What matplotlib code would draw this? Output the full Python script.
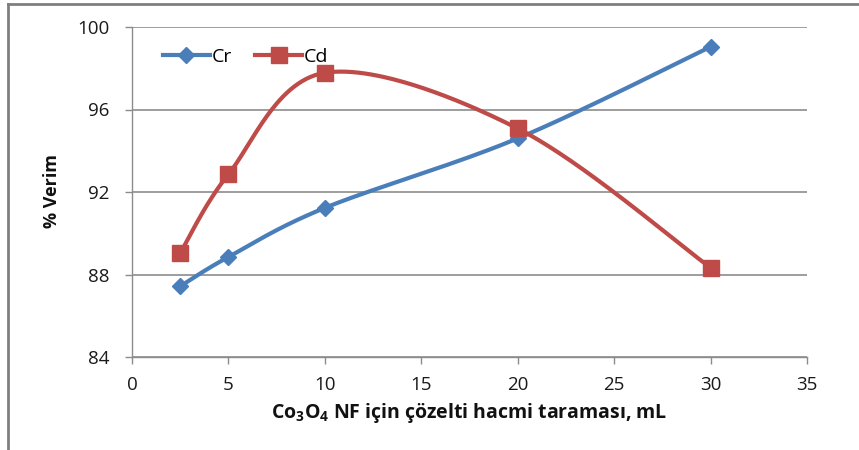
import matplotlib.pyplot as plt
import numpy as np
from matplotlib.lines import Line2D

# Veriler
hacim = [2.5, 5, 10, 20, 30]
cr_verim = [87.43, 88.85, 91.23, 94.6, 99.04]
cd_verim = [89.04, 92.86, 97.78, 95.08, 88.33]

x_ticks = [0, 5, 10, 15, 20, 25, 30, 35]
y_ticks = [84, 88, 92, 96, 100]

CR_RENK = '#4a7ebb'
CD_RENK = '#be4b48'
GRI = '#8c8c8c'


def excel_smooth(x, y, n=60):
    """Excel tarzı yumuşatılmış çizgi (Bezier, Catmull-Rom kontrol noktaları)."""
    p = np.column_stack([x, y]).astype(float)
    p = np.vstack([p[0], p, p[-1]])
    out = []
    for i in range(1, len(p) - 2):
        p0, p1, p2, p3 = p[i - 1], p[i], p[i + 1], p[i + 2]
        c1 = p1 + (p2 - p0) / 6
        c2 = p2 - (p3 - p1) / 6
        t = np.linspace(0, 1, n)[:, None]
        seg = ((1 - t) ** 3) * p1 + 3 * ((1 - t) ** 2) * t * c1 + 3 * (1 - t) * t ** 2 * c2 + t ** 3 * p2
        out.append(seg if i == 1 else seg[1:])
    seg = np.vstack(out)
    return seg[:, 0], seg[:, 1]


plt.rcParams['font.family'] = ['Open Sans', 'DejaVu Sans']
plt.rcParams['mathtext.default'] = 'regular'

fig = plt.figure(figsize=(8.59, 4.50), dpi=100)
ax = fig.add_axes([132 / 859, 1 - 357 / 450, 675 / 859, 330 / 450])

for yv, renk, mk, ms in [(cr_verim, CR_RENK, 'D', 8), (cd_verim, CD_RENK, 's', 11)]:
    sx, sy = excel_smooth(hacim, yv)
    ax.plot(sx, sy, color=renk, linewidth=3, solid_capstyle='round', zorder=3)
    ax.plot(hacim, yv, linestyle='none', marker=mk, markersize=ms, color=renk, zorder=4)

ax.set_xlim(0, 35)
ax.set_ylim(84, 100)
ax.set_xticks(x_ticks)
ax.set_yticks(y_ticks)
ax.yaxis.grid(True, color=GRI, linewidth=1.2)
ax.set_axisbelow(True)
for s in ['top', 'right']:
    ax.spines[s].set_visible(False)
for s in ['left', 'bottom']:
    ax.spines[s].set_color(GRI)
    ax.spines[s].set_linewidth(1.0)
ax.tick_params(axis='both', colors=GRI, length=5, width=1.0, labelcolor='#1a1a1a', labelsize=13.5)
ax.tick_params(axis='x', pad=9)
ax.tick_params(axis='y', pad=11)

fig.text(52 / 859, 1 - 191 / 450, '% Verim', rotation=90, ha='center', va='center',
         fontsize=13, fontweight='bold', color='#111111')
fig.text(469 / 859, 1 - 413 / 450, 'Co$_3$O$_4$ NF için çözelti hacmi taraması, mL',
         ha='center', va='center', fontsize=14, fontweight='bold', color='#111111')

handles = [
    Line2D([], [], color=CR_RENK, linewidth=3, marker='D', markersize=8),
    Line2D([], [], color=CD_RENK, linewidth=3, marker='s', markersize=11),
]
ax.legend(handles, ['Cr', 'Cd'], loc='upper left', bbox_to_anchor=(0.02, 0.99), ncol=2,
          frameon=False, fontsize=14, handlelength=2.4, handletextpad=0.1, columnspacing=1.2)

# Çerçeve
fig.add_artist(Line2D([8 / 859, 1], [1 - 4 / 450, 1 - 4 / 450], color='#7f7f7f', linewidth=2,
                      transform=fig.transFigure))
fig.add_artist(Line2D([8 / 859, 8 / 859], [0, 1 - 4 / 450], color='#7f7f7f', linewidth=2,
                      transform=fig.transFigure))

fig.savefig('out.png', dpi=100)
